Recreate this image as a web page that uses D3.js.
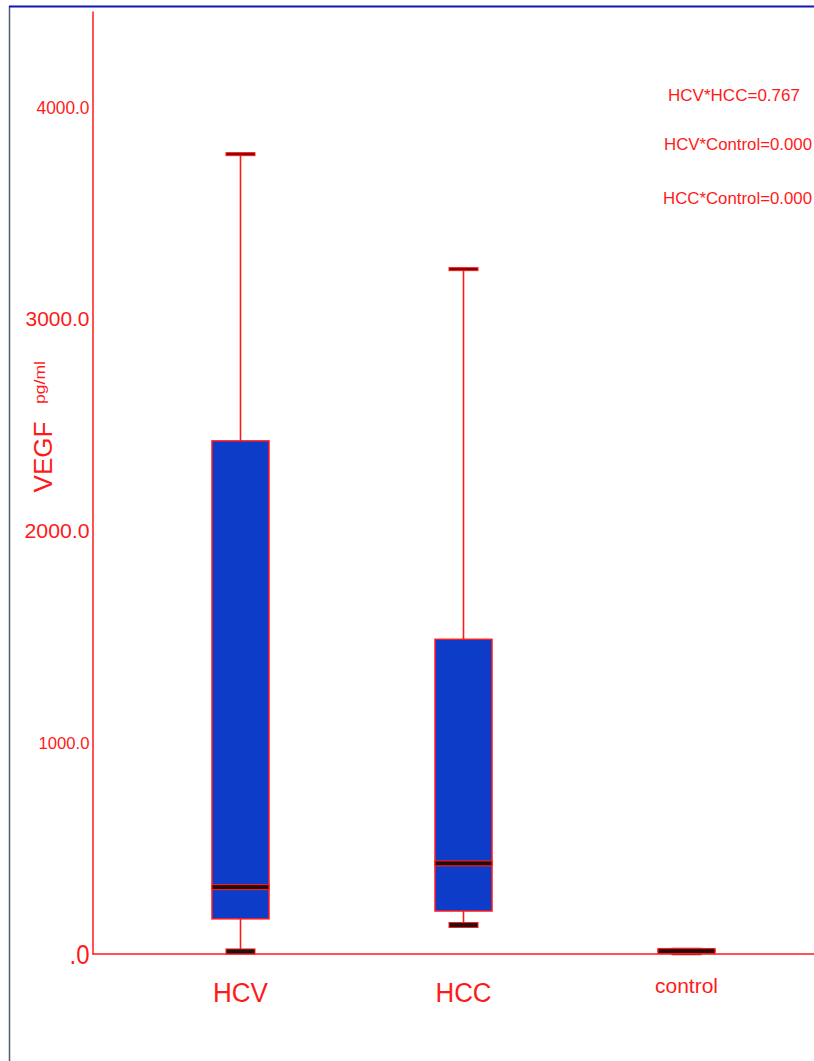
<!DOCTYPE html>
<html>
<head>
<meta charset="utf-8">
<script src="https://cdn.jsdelivr.net/npm/d3@7"></script>
<style>
  html, body { margin: 0; padding: 0; background: #fff; }
  svg { display: block; font-family: "Liberation Sans", Arial, sans-serif; }
</style>
</head>
<body>
<div id="chart"></div>
<script>
// ---- data ----
const categories   = ["HCV", "HCC", "control"];
const whiskerLow   = [12, 137, 8];
const quartile1    = [166, 203, 10];
const medians      = [316, 428, 14];
const quartile3    = [2423, 1486, 18];
const whiskerHigh  = [3777, 3234, 20];
const yTicks       = [0, 1000, 2000, 3000, 4000];
const yTickLabels  = [".0", "1000.0", "2000.0", "3000.0", "4000.0"];
const pValueTexts  = ["HCV*HCC=0.767", "HCV*Control=0.000", "HCC*Control=0.000"];

// ---- styling (kept separate from data) ----
const W = 814, H = 1061;
const red = "#ff1a1a";
const boxFill = "#0c3cc8";
const yTickStyle = [ {fs: 27, tl: 20}, {fs: 17, tl: 51}, {fs: 20, tl: 65}, {fs: 20, tl: 64}, {fs: 18, tl: 53} ];
const xTickStyle = [ {fs: 27, tl: 55, dy: 1002}, {fs: 27, tl: 56, dy: 1002}, {fs: 21, tl: 63, dy: 993} ];
const annoStyle  = [ {x: 668, y: 101, tl: 132}, {x: 664, y: 150, tl: 148}, {x: 663, y: 204, tl: 149} ];

const svg = d3.select("#chart").append("svg").attr("width", W).attr("height", H);

// frame
svg.append("line").attr("x1", 9.5).attr("x2", 9.5).attr("y1", 6).attr("y2", H)
  .attr("stroke", "#4b5d78").attr("stroke-width", 1.5);
svg.append("line").attr("x1", 9).attr("x2", W).attr("y1", 6.5).attr("y2", 6.5)
  .attr("stroke", "#1515b8").attr("stroke-width", 2);

// scales
const axisX = 92.5;
const y = d3.scaleLinear().domain([0, 4453]).range([954, 11]);
const x = d3.scaleBand().domain(categories).range([129, 798]).paddingInner(0).paddingOuter(0);
const cx = c => x(c) + x.bandwidth() / 2;
const boxW = 57, capW = 29;

// y axis
const yAxisG = svg.append("g").attr("transform", `translate(${axisX},0)`)
  .call(d3.axisLeft(y).tickValues(yTicks).tickSize(0).tickSizeOuter(0).tickPadding(3)
        .tickFormat((d, i) => yTickLabels[i]));
yAxisG.select(".domain").attr("stroke", red).attr("stroke-width", 1.5);
yAxisG.selectAll(".tick text")
  .attr("fill", red)
  .attr("font-family", "Liberation Sans, Arial, sans-serif")
  .attr("dy", "0.36em")
  .each(function(d, i) {
    const s = yTickStyle[i];
    d3.select(this).attr("font-size", s.fs).attr("textLength", s.tl).attr("lengthAdjust", "spacingAndGlyphs");
  });

// baseline (x axis line)
svg.append("line").attr("x1", axisX).attr("x2", W).attr("y1", y(0)).attr("y2", y(0))
  .attr("stroke", red).attr("stroke-width", 1.5);

// x axis labels
const xAxisG = svg.append("g").attr("transform", `translate(0,${y(0)})`)
  .call(d3.axisBottom(x).tickSize(0).tickSizeOuter(0));
xAxisG.select(".domain").remove();
xAxisG.selectAll(".tick text")
  .attr("fill", red)
  .attr("font-family", "Liberation Sans, Arial, sans-serif")
  .each(function(d, i) {
    const s = xTickStyle[i];
    d3.select(this).attr("font-size", s.fs).attr("y", s.dy - y(0)).attr("dy", 0)
      .attr("textLength", s.tl).attr("lengthAdjust", "spacingAndGlyphs");
  });

// boxes
const g = svg.append("g");
categories.forEach((c, i) => {
  const xc = cx(c);
  // whisker lines
  g.append("line").attr("x1", xc).attr("x2", xc).attr("y1", y(whiskerHigh[i])).attr("y2", y(quartile3[i]))
    .attr("stroke", red).attr("stroke-width", 1.6);
  g.append("line").attr("x1", xc).attr("x2", xc).attr("y1", y(quartile1[i])).attr("y2", y(whiskerLow[i]))
    .attr("stroke", red).attr("stroke-width", 1.6);
  // box
  g.append("rect").attr("x", xc - boxW / 2).attr("width", boxW)
    .attr("y", y(quartile3[i])).attr("height", y(quartile1[i]) - y(quartile3[i]))
    .attr("fill", boxFill).attr("stroke", red).attr("stroke-width", 1.5);
  // upper cap
  g.append("rect").attr("x", xc - capW / 2).attr("width", capW)
    .attr("y", y(whiskerHigh[i]) - 1.5).attr("height", 3)
    .attr("fill", "#7a0000").attr("stroke", red).attr("stroke-width", 1);
  // lower cap
  g.append("rect").attr("x", xc - capW / 2).attr("width", capW)
    .attr("y", y(whiskerLow[i]) - 2.5).attr("height", 5)
    .attr("fill", "#1a1414").attr("stroke", red).attr("stroke-width", 1);
  // median
  g.append("rect").attr("x", xc - boxW / 2).attr("width", boxW)
    .attr("y", y(medians[i]) - 2.5).attr("height", 5)
    .attr("fill", "#1a1010").attr("stroke", red).attr("stroke-width", 1.2);
});

// y-axis title
const titleG = svg.append("g");
titleG.append("text").attr("transform", "translate(52,457) rotate(-90)")
  .attr("text-anchor", "middle").attr("fill", red).attr("font-size", 26)
  .attr("textLength", 71).attr("lengthAdjust", "spacingAndGlyphs").text("VEGF");
titleG.append("text").attr("transform", "translate(45,382.5) rotate(-90)")
  .attr("text-anchor", "middle").attr("fill", red).attr("font-size", 14)
  .attr("textLength", 43).attr("lengthAdjust", "spacingAndGlyphs").text("pg/ml");

// p-value annotations
pValueTexts.forEach((t, i) => {
  const s = annoStyle[i];
  svg.append("text").attr("x", s.x).attr("y", s.y).attr("fill", red).attr("font-size", 17)
    .attr("textLength", s.tl).attr("lengthAdjust", "spacingAndGlyphs").text(t);
});
</script>
</body>
</html>
